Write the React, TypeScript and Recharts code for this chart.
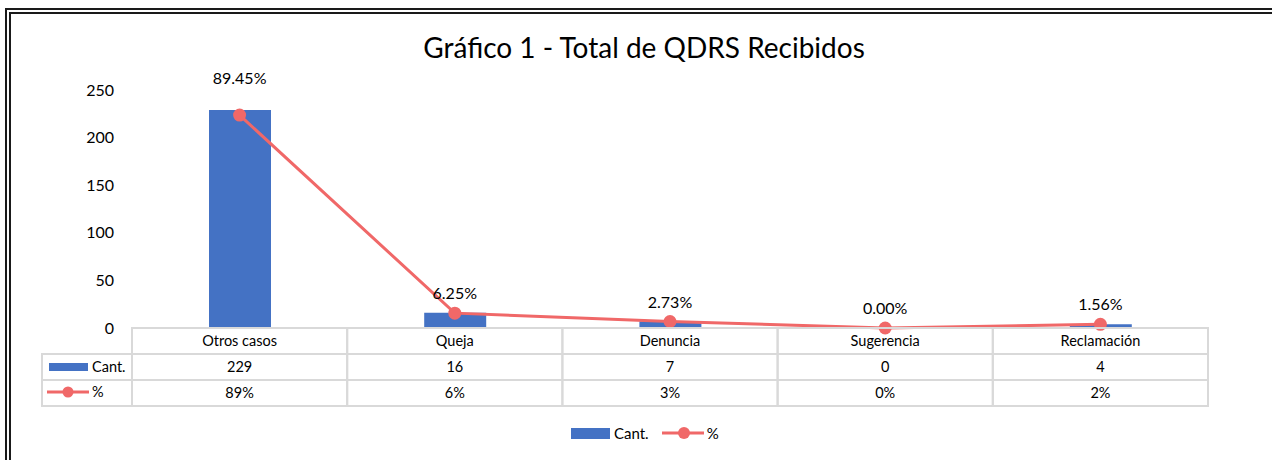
import { ComposedChart, Bar, Line, XAxis, YAxis, Legend, LabelList, Customized } from 'recharts'

const categories = ['Otros casos', 'Queja', 'Denuncia', 'Sugerencia', 'Reclamación']
const cant = [229, 16, 7, 0, 4]
const pct = [89.45, 6.25, 2.73, 0.0, 1.56]
const yTicks = [0, 50, 100, 150, 200, 250]

const data = categories.map((name, i) => ({ name, cant: cant[i], pct: pct[i] }))

const BLUE = '#4472C4'
const RED = '#F06868'
const GRID = '#D9D9D9'
const FONT = 'Lato, "Open Sans", sans-serif'

// plot geometry (used for the data table under the axis)
const PLOT_LEFT = 132
const PLOT_RIGHT = 1208
const PLOT_BOTTOM = 328
const BAND = (PLOT_RIGHT - PLOT_LEFT) / categories.length
const ROW = 26

function TableTick(props: any) {
  const { x, payload } = props
  const i = payload.index
  const left = x - BAND / 2
  const cell = (y: number) => (
    <rect x={left} y={y} width={BAND} height={ROW} fill="none" stroke={GRID} strokeWidth={2} />
  )
  return (
    <g fontFamily={FONT} fontSize={14.5} fill="#000">
      {i === 0 && (
        <g>
          <rect x={42} y={PLOT_BOTTOM + ROW} width={PLOT_LEFT - 42} height={ROW} fill="none" stroke={GRID} strokeWidth={2} />
          <rect x={42} y={PLOT_BOTTOM + ROW * 2} width={PLOT_LEFT - 42} height={ROW} fill="none" stroke={GRID} strokeWidth={2} />
          <rect x={49} y={PLOT_BOTTOM + ROW + 9} width={39} height={8} fill={BLUE} />
          <text x={92} y={PLOT_BOTTOM + ROW + 18} textAnchor="start">Cant.</text>
          <line x1={47} x2={89} y1={PLOT_BOTTOM + ROW * 2 + 12} y2={PLOT_BOTTOM + ROW * 2 + 12} stroke={RED} strokeWidth={3} />
          <circle cx={68} cy={PLOT_BOTTOM + ROW * 2 + 12} r={5.5} fill={RED} />
          <text x={92} y={PLOT_BOTTOM + ROW * 2 + 17} textAnchor="start">%</text>
        </g>
      )}
      {cell(PLOT_BOTTOM)}
      {cell(PLOT_BOTTOM + ROW)}
      {cell(PLOT_BOTTOM + ROW * 2)}
      <text x={x} y={PLOT_BOTTOM + 18} textAnchor="middle">{payload.value}</text>
      <text x={x} y={PLOT_BOTTOM + ROW + 18} textAnchor="middle">{cant[i]}</text>
      <text x={x} y={PLOT_BOTTOM + ROW * 2 + 18} textAnchor="middle">{Math.round(pct[i])}%</text>
    </g>
  )
}

function PctLabel(props: any) {
  const { x, y, value, index } = props
  const lift = index === 0 ? 37 : 20
  return (
    <text x={x} y={y - lift + 6} textAnchor="middle" fontFamily={FONT} fontSize={16} fill="#000">
      {Number(value).toFixed(2)}%
    </text>
  )
}

function LegendBox() {
  return (
    <div style={{ height: 30, display: 'flex', alignItems: 'center', paddingLeft: 571, fontFamily: FONT, fontSize: 15, color: '#000' }}>
      <span style={{ width: 39, height: 11, background: BLUE, display: 'inline-block' }} />
      <span style={{ marginLeft: 4 }}>Cant.</span>
      <svg width={42} height={14} style={{ marginLeft: 13 }}>
        <line x1={0} x2={42} y1={7} y2={7} stroke={RED} strokeWidth={3} />
        <circle cx={22} cy={7} r={6} fill={RED} />
      </svg>
      <span style={{ marginLeft: 3 }}>%</span>
    </div>
  )
}

export default function App() {
  return (
    <div style={{ position: 'fixed', left: 0, top: 0, width: 1272, height: 460, overflow: 'hidden', background: '#fff' }}>
      <div
        style={{
          position: 'absolute', left: 5, top: 8, width: 1400, height: 600,
          borderLeft: '6px double #1a1a1a', borderTop: '6px double #1a1a1a',
        }}
      />
      <div style={{ position: 'absolute', left: 0, top: 0 }}>
        <ComposedChart width={1272} height={460} data={data} margin={{ top: 90, right: 64, left: 72, bottom: 12 }}>
          <Customized
            component={() => (
              <text x={644} y={58} textAnchor="middle" fontFamily={FONT} fontSize={28} fill="#000">
                Gráfico 1 - Total de QDRS Recibidos
              </text>
            )}
          />
          <XAxis dataKey="name" height={90} interval={0} axisLine={false} tickLine={false} tick={<TableTick />} />
          <YAxis
            yAxisId="cant"
            width={60}
            domain={[0, 250]}
            ticks={yTicks}
            axisLine={false}
            tickLine={false}
            tickMargin={12}
            tick={{ fill: '#000', fontSize: 16, fontFamily: FONT }}
          />
          <YAxis yAxisId="pct" orientation="right" hide domain={[0, 100]} />
          <Bar yAxisId="cant" dataKey="cant" fill={BLUE} barSize={62} isAnimationActive={false} />
          <Line
            yAxisId="pct"
            dataKey="pct"
            stroke={RED}
            strokeWidth={3}
            dot={{ r: 6.5, fill: RED, stroke: RED, strokeWidth: 0 }}
            activeDot={false}
            isAnimationActive={false}
          >
            <LabelList dataKey="pct" content={<PctLabel />} />
          </Line>
          <Legend verticalAlign="bottom" wrapperStyle={{ left: 0, width: 1272 }} content={() => <LegendBox />} />
        </ComposedChart>
      </div>
    </div>
  )
}
